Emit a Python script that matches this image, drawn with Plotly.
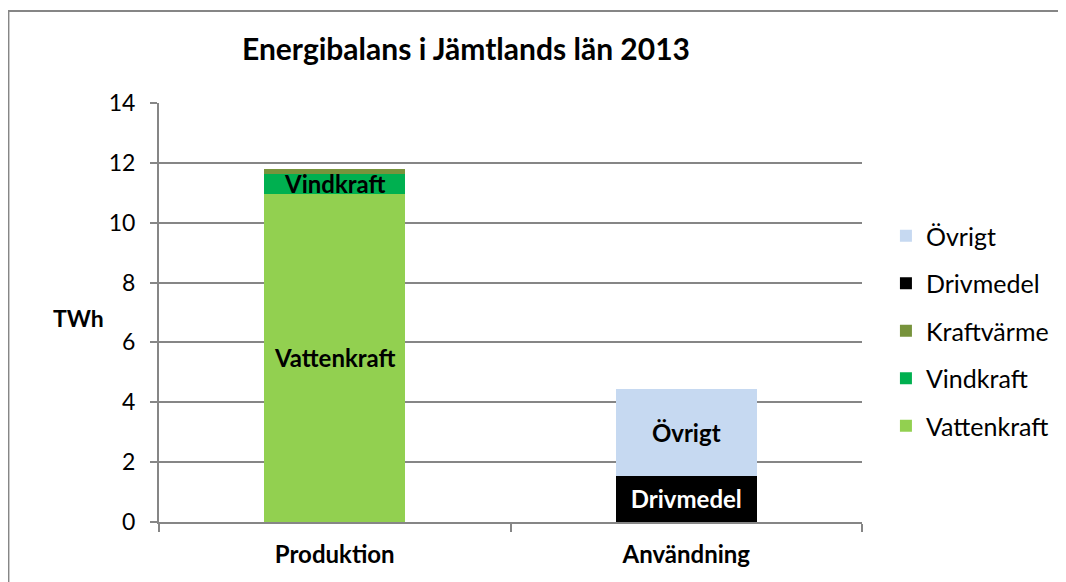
import plotly.graph_objects as go

categories = ["Produktion", "Användning"]
series_names = ["Vattenkraft", "Vindkraft", "Kraftvärme", "Drivmedel", "Övrigt"]
vattenkraft = [10.97, None]
vindkraft = [0.67, None]
kraftvarme = [0.15, None]
drivmedel = [None, 1.54]
ovrigt = [None, 2.90]
y_ticks = [0, 2, 4, 6, 8, 10, 12, 14]

colors = ["#92D050", "#00B050", "#77933C", "#000000", "#C6D9F1"]
label_colors = ["black", "black", "black", "white", "black"]
show_label = [True, True, False, True, True]
values = [vattenkraft, vindkraft, kraftvarme, drivmedel, ovrigt]

FONT = "Lato"
W, H = 1058, 574
L, T, R, B = 151, 95, 202, 60
PW, PH = W - L - R, H - T - B


def px(xpix):
    return (xpix - L) / PW


def py(ypix):
    return (H - B - ypix) / PH


fig = go.Figure()
n = len(series_names)
for i, (name, vals, col, lc, sl) in enumerate(zip(series_names, values, colors, label_colors, show_label)):
    fig.add_trace(go.Bar(
        x=categories, y=vals, name=name, marker=dict(color=col, line=dict(width=0)),
        text=[name if (v is not None and sl) else "" for v in vals],
        textposition="inside", insidetextanchor="middle", textangle=0,
        constraintext="none", cliponaxis=False,
        textfont=dict(family=FONT, size=24, color=lc, weight="bold"),
        legendgroup=name, legendrank=1000 + (n - i), width=0.4,
    ))

fig.update_layout(
    barmode="stack",
    width=W, height=H,
    margin=dict(l=L, r=R, t=T, b=B),
    paper_bgcolor="white", plot_bgcolor="white",
    font=dict(family=FONT, size=24, color="black"),
    showlegend=True,
    legend=dict(x=px(880), y=py(323), xanchor="left", yanchor="middle",
                traceorder="grouped", tracegroupgap=12,
                font=dict(family=FONT, size=25, color="black"),
                itemwidth=30),
    xaxis=dict(showgrid=False, showline=True, linecolor="#868686", linewidth=2,
               ticks="outside", tickson="boundaries", ticklen=8, tickcolor="#868686",
               tickwidth=2, tickfont=dict(family=FONT, size=24, weight="bold"),
               ticklabelstandoff=10, range=[-0.5, 1.5]),
    yaxis=dict(range=[0, 14], tickvals=y_ticks, showgrid=True, gridcolor="#868686",
               gridwidth=1.5, showline=True, linecolor="#868686", linewidth=2,
               ticks="outside", ticklen=7, tickcolor="#868686", tickwidth=2,
               tickfont=dict(family=FONT, size=23), ticklabelstandoff=10, zeroline=False),
    shapes=[dict(type="rect", xref="paper", yref="paper",
                 x0=px(0), x1=px(W + 20),
                 y0=py(H + 20), y1=py(3),
                 line=dict(color="#868686", width=2), fillcolor="rgba(0,0,0,0)", layer="below")],
    annotations=[
        dict(text="<b>Energibalans i Jämtlands län 2013</b>", xref="paper", yref="paper",
             x=px(459), y=py(40), xanchor="center", yanchor="middle",
             showarrow=False, font=dict(family=FONT, size=30, color="black")),
        dict(text="<b>TWh</b>", xref="paper", yref="paper",
             x=px(70), y=py(310), xanchor="center", yanchor="middle",
             showarrow=False, font=dict(family=FONT, size=23, color="black")),
    ],
)

fig.write_html("out.html")
